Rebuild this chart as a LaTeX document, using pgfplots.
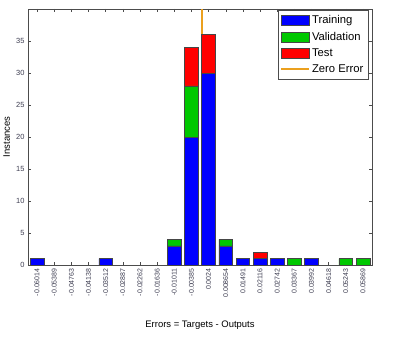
\documentclass[border=0pt]{standalone}
\usepackage{pgfplots}
\pgfplotsset{compat=1.18}
\usepackage{fontspec}
\setmainfont{Liberation Sans}
\definecolor{tr}{RGB}{0,0,255}
\definecolor{va}{RGB}{0,200,0}
\definecolor{te}{RGB}{255,0,0}
\definecolor{ze}{RGB}{235,160,30}
\definecolor{edge}{RGB}{70,70,70}
\definecolor{ticklab}{RGB}{60,60,80}
\pgfplotsset{
  barlegend/.style={legend image code/.code={\draw[##1, draw=edge, line width=0.4pt] (0bp,-5bp) rectangle (28bp,5bp);}},
  zerolegend/.style={legend image code/.code={\draw[color=ze, line width=1.3pt] (0bp,0.5bp) -- (28bp,0.5bp);}},
}
\begin{document}
\begin{tikzpicture}[x=1bp,y=1bp]
\path[use as bounding box] (-28bp,-77bp) rectangle (368bp,265bp);
\begin{axis}[
  anchor=south west, at={(0,0)},
  scale only axis, width=344bp, height=256bp,
  ybar stacked, bar width=0.8,
  xmin=-0.53, xmax=19.53, ymin=0, ymax=40,
  xtick={0,...,19},
  xticklabels={-0.06014,-0.05389,-0.04763,-0.04138,-0.03512,-0.02887,-0.02262,-0.01636,-0.01011,-0.00385,0.0024,0.008654,0.01491,0.02116,0.02742,0.03367,0.03992,0.04618,0.05243,0.05869},
  x tick label style={rotate=90, anchor=east, font=\fontsize{7}{7}\selectfont, text=ticklab},
  ytick={0,5,...,35},
  y tick label style={font=\fontsize{7.5}{8}\selectfont, text=ticklab},
  /pgf/number format/assume math mode=true,
  tick align=inside, major tick length=3bp,
  tick style={black!70, line width=0.4pt},
  axis line style={black!70, line width=0.5pt},
  xlabel={Errors = Targets - Outputs}, ylabel={Instances},
  label style={font=\fontsize{9.5}{10}\selectfont},
  xlabel style={at={(axis description cs:0.5,0)}, anchor=north, yshift=-52bp},
  ylabel style={at={(axis description cs:-0.042,0.5)}, anchor=south},
  legend style={at={(0.99,0.995)}, anchor=north east, font=\fontsize{11.3}{12}\selectfont,
    draw=black!70, line width=0.5pt, row sep=3pt, inner sep=3pt, cells={anchor=west}},
]
\addplot[fill=tr, draw=edge, line width=0.5pt, barlegend] coordinates {(0,1)(1,0)(2,0)(3,0)(4,1)(5,0)(6,0)(7,0)(8,3)(9,20)(10,30)(11,3)(12,1)(13,1)(14,1)(15,0)(16,1)(17,0)(18,0)(19,0)};
\addplot[fill=va, draw=edge, line width=0.5pt, barlegend] coordinates {(0,0)(1,0)(2,0)(3,0)(4,0)(5,0)(6,0)(7,0)(8,1)(9,8)(10,0)(11,1)(12,0)(13,0)(14,0)(15,1)(16,0)(17,0)(18,1)(19,1)};
\addplot[fill=te, draw=edge, line width=0.5pt, barlegend] coordinates {(0,0)(1,0)(2,0)(3,0)(4,0)(5,0)(6,0)(7,0)(8,0)(9,6)(10,6)(11,0)(12,0)(13,1)(14,0)(15,0)(16,0)(17,0)(18,0)(19,0)};
\addplot[stack plots=false, sharp plot, draw=ze, line width=1.1pt, mark=none, zerolegend] coordinates {(9.616,0)(9.616,40)};
\legend{Training,Validation,Test,Zero Error}
\end{axis}
\end{tikzpicture}
\end{document}
